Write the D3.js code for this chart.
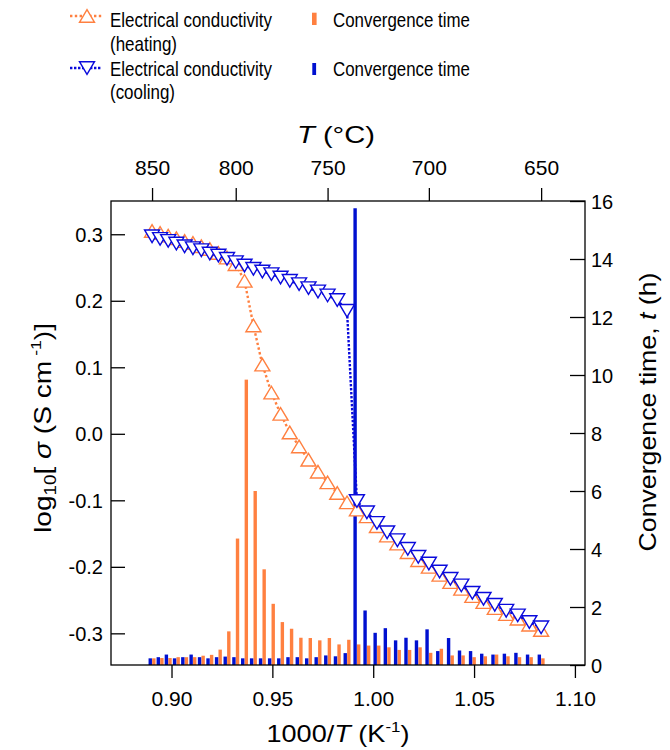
<!DOCTYPE html>
<html><head><meta charset="utf-8">
<script src="https://cdn.jsdelivr.net/npm/d3@7"></script>
<style>
body{margin:0;background:#fff;}
svg{display:block;font-family:"Liberation Sans",Arial,Helvetica,sans-serif;}
</style>
</head><body>
<svg id="chart" width="670" height="750"></svg>
<script>
// ---- data ----
const temperaturesC = [850,845,840,835,830,825,820,815,810,805,800,795,790,785,780,775,770,765,760,755,750,745,740,735,730,725,720,715,710,705,700,695,690,685,680,675,670,665,660,655,650];
const sigmaHeating = [0.305,0.302,0.298,0.294,0.290,0.287,0.282,0.278,0.272,0.265,0.255,0.230,0.163,0.104,0.062,0.030,0.002,-0.019,-0.039,-0.057,-0.073,-0.089,-0.103,-0.114,-0.124,-0.139,-0.153,-0.165,-0.178,-0.190,-0.200,-0.212,-0.223,-0.233,-0.244,-0.253,-0.262,-0.271,-0.278,-0.287,-0.295];
const sigmaCooling = [0.297,0.293,0.290,0.286,0.282,0.279,0.276,0.271,0.268,0.263,0.258,0.253,0.248,0.244,0.240,0.235,0.230,0.225,0.219,0.214,0.208,0.201,0.185,-0.101,-0.118,-0.134,-0.148,-0.160,-0.173,-0.185,-0.195,-0.207,-0.218,-0.228,-0.239,-0.248,-0.257,-0.266,-0.273,-0.283,-0.291];
const timeHeating = [0.23,0.24,0.24,0.27,0.27,0.27,0.32,0.35,0.53,1.16,4.36,9.84,6.00,3.30,2.11,1.48,1.25,0.94,0.93,0.85,0.93,0.71,0.87,0.71,0.67,0.67,0.61,0.52,0.52,0.61,0.42,0.56,0.33,0.33,0.27,0.30,0.36,0.30,0.27,0.27,0.23];
const timeCooling = [0.23,0.27,0.36,0.23,0.27,0.36,0.27,0.23,0.27,0.29,0.27,0.23,0.23,0.23,0.23,0.23,0.27,0.27,0.23,0.27,0.33,0.30,0.41,15.75,1.88,1.11,1.27,0.85,0.94,0.85,1.23,0.48,0.93,0.50,0.48,0.39,0.36,0.39,0.42,0.36,0.36];
const xTicks = [0.90,0.95,1.00,1.05,1.10];
const topTicksC = [850,800,750,700,650];
const yLeftTicks = [-0.3,-0.2,-0.1,0.0,0.1,0.2,0.3];
const yRightTicks = [0,2,4,6,8,10,12,14,16];

// ---- style ----
const ORANGE = "#ff8040";
const BLUE = "#0a0adc";
const BLUEBAR = "#0010d0";
const L = 111, R = 585, T = 201, B = 665;

const svg = d3.select("#chart");
const x = d3.scaleLinear().domain([0.870, 1.105]).range([L, R]);
const yL = d3.scaleLinear().domain([-0.3476, 0.350]).range([B, T]);
const yR = d3.scaleLinear().domain([0, 16]).range([B, T]);
const invT = c => 1000 / (c + 273.15);

const rows = temperaturesC.map((c, i) => ({
  c, xv: invT(c),
  sh: sigmaHeating[i], sc: sigmaCooling[i],
  th: timeHeating[i], tc: timeCooling[i]
}));

// ---- bars ----
const bw = 3.4;
svg.append("g").selectAll("rect").data(rows).join("rect")
  .attr("x", d => x(d.xv) + 0.1).attr("width", bw)
  .attr("y", d => yR(d.th)).attr("height", d => yR(0) - yR(d.th))
  .attr("fill", ORANGE);
svg.append("g").selectAll("rect").data(rows).join("rect")
  .attr("x", d => x(d.xv) - bw - 0.1).attr("width", bw)
  .attr("y", d => yR(d.tc)).attr("height", d => yR(0) - yR(d.tc))
  .attr("fill", BLUEBAR);

// ---- markers / lines ----
const triUp = "M0,-6.3L7.5,6.3L-7.5,6.3Z";
const triDown = "M-7.5,-6.3L7.5,-6.3L0,6.3Z";

function series(key, color, dash, shape) {
  const line = d3.line().x(d => x(d.xv)).y(d => yL(d[key]));
  svg.append("path").datum(rows).attr("d", line)
    .attr("fill", "none").attr("stroke", color).attr("stroke-width", 2.4)
    .attr("stroke-dasharray", dash);
  svg.append("g").selectAll("path").data(rows).join("path")
    .attr("d", shape)
    .attr("transform", d => `translate(${x(d.xv)},${yL(d[key])})`)
    .attr("fill", "#fff").attr("stroke", color).attr("stroke-width", 1.4);
}
series("sh", ORANGE, "2.4,2.4", triUp);
series("sc", BLUE, "2.4,1.6", triDown);

// ---- frame ----
svg.append("rect").attr("x", L).attr("y", T).attr("width", R - L).attr("height", B - T)
  .attr("fill", "none").attr("stroke", "#000").attr("stroke-width", 1.3);

function styleAxis(g) {
  g.select(".domain").remove();
  g.selectAll(".tick line").attr("stroke", "#000").attr("stroke-width", 1.3);
  g.selectAll("text").attr("fill", "#000").attr("font-size", 21)
    .attr("font-family", "Liberation Sans, Arial, sans-serif");
}

// bottom axis
svg.append("g").attr("transform", `translate(0,${B})`)
  .call(d3.axisBottom(x).tickValues(xTicks).tickFormat(d => d.toFixed(2)).tickSizeInner(13).tickSizeOuter(0))
  .call(styleAxis)
  .call(g => g.selectAll("text").attr("y", 41).attr("dy", null));

// top axis (temperature in °C)
svg.append("g").attr("transform", `translate(0,${T})`)
  .call(d3.axisTop(x).tickValues(topTicksC.map(invT)).tickFormat(d => String(Math.round(1000 / d - 273.15))).tickSizeInner(13).tickSizeOuter(0))
  .call(styleAxis)
  .call(g => g.selectAll("text").attr("y", -26).attr("dy", null));

// left axis
svg.append("g").attr("transform", `translate(${L},0)`)
  .call(d3.axisLeft(yL).tickValues(yLeftTicks).tickFormat(d => d.toFixed(1)).tickSizeInner(-14).tickSizeOuter(0))
  .call(styleAxis)
  .call(g => g.selectAll("text").attr("x", -8).attr("dy", "0.35em").attr("font-size", 20));

// right axis
svg.append("g").attr("transform", `translate(${R},0)`)
  .call(d3.axisRight(yR).tickValues(yRightTicks).tickFormat(d => String(d)).tickSizeInner(-15).tickSizeOuter(0))
  .call(styleAxis)
  .call(g => g.selectAll("text").attr("x", 6).attr("dy", "0.35em").attr("font-size", 20));

// ---- axis titles ----
const tt = svg.append("text").attr("x", 336).attr("y", 143).attr("text-anchor", "middle")
  .attr("font-size", 24).attr("textLength", 78).attr("lengthAdjust", "spacingAndGlyphs");
tt.append("tspan").attr("font-style", "italic").text("T");
tt.append("tspan").text("  (°C)");

const bt = svg.append("text").attr("x", 338).attr("y", 742).attr("text-anchor", "middle")
  .attr("font-size", 24).attr("textLength", 143).attr("lengthAdjust", "spacingAndGlyphs");
bt.append("tspan").text("1000/");
bt.append("tspan").attr("font-style", "italic").text("T");
bt.append("tspan").text(" (K");
bt.append("tspan").attr("font-size", 15).attr("dy", -10).text("-1");
bt.append("tspan").attr("dy", 10).text(")");

const lt = svg.append("text").attr("transform", "translate(51,428) rotate(-90)")
  .attr("text-anchor", "middle").attr("font-size", 24)
  .attr("textLength", 210).attr("lengthAdjust", "spacingAndGlyphs");
lt.append("tspan").text("log");
lt.append("tspan").attr("font-size", 16).attr("dy", 5).text("10");
lt.append("tspan").attr("dy", -5).text("[ ");
lt.append("tspan").attr("font-style", "italic").text("σ");
lt.append("tspan").text(" (S cm");
lt.append("tspan").attr("font-size", 15).attr("dy", -10).text(" -1");
lt.append("tspan").attr("dy", 10).text(")]");

const rt = svg.append("text").attr("transform", "translate(656,412) rotate(-90)")
  .attr("text-anchor", "middle").attr("font-size", 24)
  .attr("textLength", 279).attr("lengthAdjust", "spacingAndGlyphs");
rt.append("tspan").text("Convergence time, ");
rt.append("tspan").attr("font-style", "italic").text("t");
rt.append("tspan").text(" (h)");

// ---- legend ----
const lg = svg.append("g");
function legendLine(yc, color, dash, shape) {
  lg.append("line").attr("x1", 70).attr("x2", 102).attr("y1", yc).attr("y2", yc)
    .attr("stroke", color).attr("stroke-width", 2.4).attr("stroke-dasharray", dash);
  lg.append("path").attr("d", shape).attr("transform", `translate(87,${yc})`)
    .attr("fill", "#fff").attr("stroke", color).attr("stroke-width", 1.4);
}
legendLine(16, ORANGE, "2.4,2.4", triUp);
legendLine(68, BLUE, "2.4,1.6", triDown);
function legendText(xp, yp, str, len) {
  lg.append("text").attr("x", xp).attr("y", yp).attr("font-size", 21)
    .attr("textLength", len).attr("lengthAdjust", "spacingAndGlyphs").text(str);
}
legendText(110, 26.5, "Electrical conductivity", 162);
legendText(110, 50.5, "(heating)", 67);
legendText(110, 76, "Electrical conductivity", 162);
legendText(110, 98.5, "(cooling)", 65);
legendText(333, 26.5, "Convergence time", 137);
legendText(333, 76, "Convergence time", 137);
lg.append("rect").attr("x", 312).attr("y", 12.7).attr("width", 4.6).attr("height", 12.3).attr("fill", ORANGE);
lg.append("rect").attr("x", 312.3).attr("y", 63).attr("width", 3.8).attr("height", 12).attr("fill", BLUEBAR);
</script>
</body></html>
